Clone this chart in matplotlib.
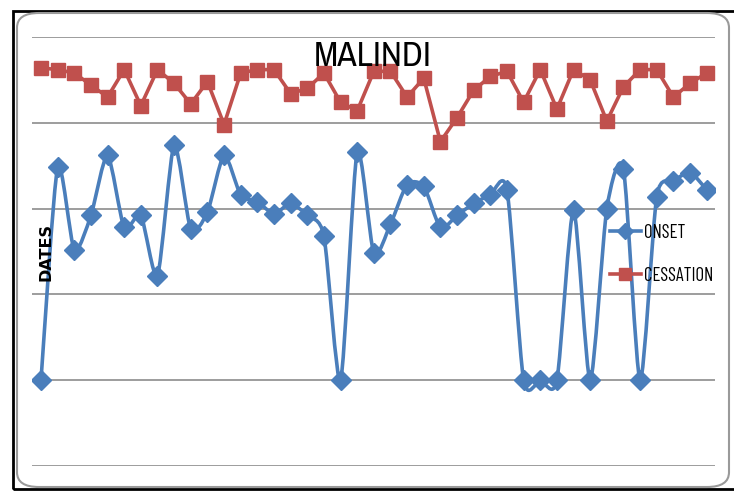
import matplotlib
matplotlib.use('Agg')
import matplotlib.pyplot as plt
from matplotlib.path import Path
from matplotlib.patches import PathPatch, Rectangle, FancyBboxPatch
from matplotlib.lines import Line2D

# values (days, arbitrary scale; gridlines every 50)
years = list(range(41))
onset = [50, 174, 126, 146, 181, 139, 146, 111, 187, 138,
         148, 181, 158, 154, 147, 153, 146, 134, 50, 183,
         124, 141, 164, 163, 139, 146, 153, 158, 161, 50,
         50, 50, 149, 50, 150, 173, 50, 157, 166, 171, 161]
cessation = [232, 231, 229, 222, 215, 231, 210, 231, 223, 211,
             224, 199, 229, 231, 231, 217, 220, 229, 212, 207,
             230, 230, 215, 226, 189, 203, 219, 227, 230, 212,
             231, 208, 231, 225, 201, 221, 231, 231, 215, 223, 229]

blue = '#4a7ebb'
red = '#c0504d'
narrow = ['Archivo Narrow', 'Carlito', 'DejaVu Sans']
condensed = ['Barlow Condensed', 'Archivo Narrow', 'DejaVu Sans']

W, H = 734, 491
fig = plt.figure(figsize=(W / 100, H / 100), dpi=100)

# outer frame and rounded chart area
fig.patches.append(Rectangle((13 / W, 2 / H), 1.0, 1 - 13 / H, transform=fig.transFigure,
                             fill=False, ec='black', lw=2, zorder=0))
fig.patches.append(FancyBboxPatch((17 / W, 4 / H), (729 - 17) / W, (478 - 4) / H,
                                  boxstyle='round,pad=0,rounding_size=0.03',
                                  transform=fig.transFigure, fc='none',
                                  ec='#9a9a9a', lw=1.5, zorder=0))

ax = fig.add_axes([32 / W, (H - 466) / H, (715 - 32) / W, (466 - 37) / H])
ax.set_facecolor('none')


def smooth_path(xs, ys, k=0.12):
    # excel style smoothed line: cubic bezier through the points
    verts = [(xs[0], ys[0])]
    codes = [Path.MOVETO]
    n = len(xs)
    for i in range(n - 1):
        x0, y0 = (xs[i - 1], ys[i - 1]) if i > 0 else (xs[i], ys[i])
        x1, y1 = xs[i], ys[i]
        x2, y2 = xs[i + 1], ys[i + 1]
        x3, y3 = (xs[i + 2], ys[i + 2]) if i + 2 < n else (x2, y2)
        c1 = (x1 + (x2 - x0) * k, y1 + (y2 - y0) * k)
        c2 = (x2 - (x3 - x1) * k, y2 - (y3 - y1) * k)
        verts += [c1, c2, (x2, y2)]
        codes += [Path.CURVE4] * 3
    return Path(verts, codes)


ax.add_patch(PathPatch(smooth_path(years, onset), fill=False, ec=blue, lw=2.6,
                       capstyle='round', joinstyle='round', zorder=2))
ax.plot(years, onset, ls='none', marker='D', ms=10, color=blue, zorder=3)
ax.plot(years, cessation, '-', color=red, lw=2.6, marker='s', ms=10.5, zorder=4)

ax.set_xlim(-0.54, 40.5)
ax.set_ylim(0, 250)
ax.set_yticks(range(0, 251, 50))
ax.set_xticks([])
ax.yaxis.grid(True, color='#8c8c8c', lw=1.2)
ax.tick_params(left=False, labelleft=False)
for s in ax.spines.values():
    s.set_visible(False)

handles = [Line2D([], [], color=blue, lw=2.6, marker='D', ms=8),
           Line2D([], [], color=red, lw=2.6, marker='s', ms=8)]
leg = fig.legend(handles, ['ONSET', 'CESSATION'], loc='upper left',
                 bbox_to_anchor=(602 / W, 1 - 216 / H), frameon=False,
                 prop={'family': condensed, 'size': 13.5},
                 handlelength=1.7, handletextpad=0.15, labelspacing=1.35,
                 borderaxespad=0)

fig.text(373 / W, 1 - 56 / H, 'MALINDI', ha='center', va='center', fontsize=25.5,
         family=narrow)
fig.text(46 / W, 1 - 252 / H, 'DATES', ha='center', va='center', rotation=90,
         fontsize=11.5, fontweight='bold', family='DejaVu Sans')

fig.savefig('out.png', dpi=100)
